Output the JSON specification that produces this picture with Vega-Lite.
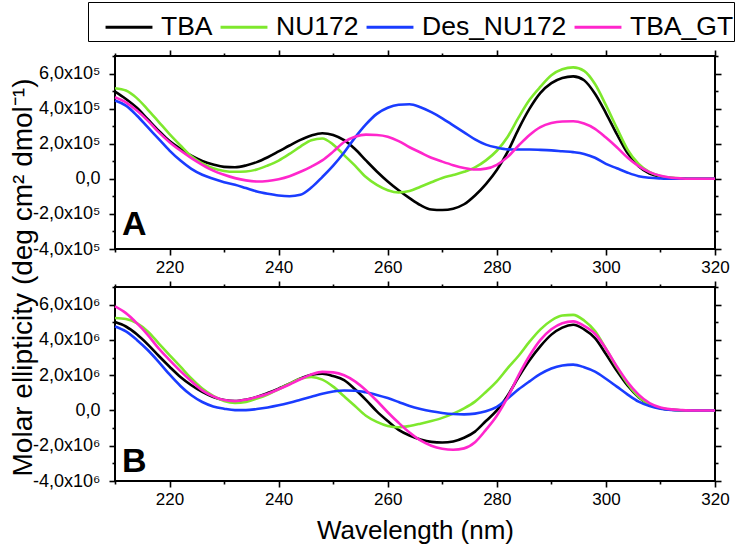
{
  "$schema": "https://vega.github.io/schema/vega-lite/v6.json",
  "autosize": {"type": "pad"},
  "padding": {"left": 7, "top": 1, "right": 0, "bottom": 0},
  "bounds": "flush",
  "spacing": 38,
  "background": "white",
  "config": {
    "font": "Liberation Sans",
    "view": {"stroke": "black", "strokeWidth": 2},
    "axis": {"domain": false, "grid": false, "labelFlush": false, "tickColor": "black", "tickWidth": 1.6, "labelColor": "black", "labelFont": "Liberation Sans", "titleFont": "Liberation Sans", "titleColor": "black", "titleFontWeight": "normal"}
  },
  "data": {"values": [
    {"p":"A","nm":210,"TBA":497000,"NU172":516000,"Des_NU172":446000,"TBA_GT":465000},
    {"p":"A","nm":212,"TBA":455000,"NU172":503000,"Des_NU172":417000,"TBA_GT":436000},
    {"p":"A","nm":214,"TBA":405000,"NU172":460000,"Des_NU172":361000,"TBA_GT":389000},
    {"p":"A","nm":216,"TBA":340000,"NU172":395000,"Des_NU172":294000,"TBA_GT":332000},
    {"p":"A","nm":218,"TBA":275000,"NU172":325000,"Des_NU172":228000,"TBA_GT":266000},
    {"p":"A","nm":220,"TBA":215000,"NU172":255000,"Des_NU172":161000,"TBA_GT":209000},
    {"p":"A","nm":222,"TBA":170000,"NU172":190000,"Des_NU172":104000,"TBA_GT":161000},
    {"p":"A","nm":224,"TBA":132000,"NU172":128000,"Des_NU172":57000,"TBA_GT":118000},
    {"p":"A","nm":226,"TBA":102000,"NU172":88000,"Des_NU172":23000,"TBA_GT":80000},
    {"p":"A","nm":228,"TBA":82000,"NU172":60000,"Des_NU172":0,"TBA_GT":47000},
    {"p":"A","nm":230,"TBA":68000,"NU172":45000,"Des_NU172":-19000,"TBA_GT":23000},
    {"p":"A","nm":232,"TBA":66000,"NU172":40000,"Des_NU172":-34000,"TBA_GT":4000},
    {"p":"A","nm":234,"TBA":76000,"NU172":42000,"Des_NU172":-53000,"TBA_GT":-9000},
    {"p":"A","nm":236,"TBA":95000,"NU172":53000,"Des_NU172":-72000,"TBA_GT":-15000},
    {"p":"A","nm":238,"TBA":123000,"NU172":76000,"Des_NU172":-85000,"TBA_GT":-12000},
    {"p":"A","nm":240,"TBA":156000,"NU172":104000,"Des_NU172":-95000,"TBA_GT":-2000},
    {"p":"A","nm":242,"TBA":190000,"NU172":142000,"Des_NU172":-99000,"TBA_GT":15000},
    {"p":"A","nm":244,"TBA":222000,"NU172":184000,"Des_NU172":-91000,"TBA_GT":40000},
    {"p":"A","nm":246,"TBA":247000,"NU172":220000,"Des_NU172":-50000,"TBA_GT":70000},
    {"p":"A","nm":248,"TBA":260000,"NU172":230000,"Des_NU172":10000,"TBA_GT":105000},
    {"p":"A","nm":250,"TBA":250000,"NU172":195000,"Des_NU172":75000,"TBA_GT":155000},
    {"p":"A","nm":252,"TBA":220000,"NU172":135000,"Des_NU172":150000,"TBA_GT":210000},
    {"p":"A","nm":254,"TBA":170000,"NU172":75000,"Des_NU172":235000,"TBA_GT":240000},
    {"p":"A","nm":256,"TBA":105000,"NU172":10000,"Des_NU172":310000,"TBA_GT":252000},
    {"p":"A","nm":258,"TBA":42000,"NU172":-35000,"Des_NU172":370000,"TBA_GT":250000},
    {"p":"A","nm":260,"TBA":-15000,"NU172":-65000,"Des_NU172":405000,"TBA_GT":240000},
    {"p":"A","nm":262,"TBA":-65000,"NU172":-78000,"Des_NU172":422000,"TBA_GT":215000},
    {"p":"A","nm":264,"TBA":-110000,"NU172":-70000,"Des_NU172":425000,"TBA_GT":180000},
    {"p":"A","nm":266,"TBA":-150000,"NU172":-45000,"Des_NU172":408000,"TBA_GT":150000},
    {"p":"A","nm":268,"TBA":-175000,"NU172":-20000,"Des_NU172":380000,"TBA_GT":120000},
    {"p":"A","nm":270,"TBA":-178000,"NU172":5000,"Des_NU172":345000,"TBA_GT":98000},
    {"p":"A","nm":272,"TBA":-170000,"NU172":22000,"Des_NU172":305000,"TBA_GT":78000},
    {"p":"A","nm":274,"TBA":-145000,"NU172":40000,"Des_NU172":265000,"TBA_GT":62000},
    {"p":"A","nm":276,"TBA":-95000,"NU172":65000,"Des_NU172":225000,"TBA_GT":53000},
    {"p":"A","nm":278,"TBA":-30000,"NU172":105000,"Des_NU172":195000,"TBA_GT":58000},
    {"p":"A","nm":280,"TBA":50000,"NU172":160000,"Des_NU172":178000,"TBA_GT":80000},
    {"p":"A","nm":282,"TBA":155000,"NU172":240000,"Des_NU172":168000,"TBA_GT":125000},
    {"p":"A","nm":284,"TBA":285000,"NU172":350000,"Des_NU172":167000,"TBA_GT":190000},
    {"p":"A","nm":286,"TBA":400000,"NU172":450000,"Des_NU172":167000,"TBA_GT":250000},
    {"p":"A","nm":288,"TBA":490000,"NU172":525000,"Des_NU172":165000,"TBA_GT":295000},
    {"p":"A","nm":290,"TBA":545000,"NU172":590000,"Des_NU172":162000,"TBA_GT":318000},
    {"p":"A","nm":292,"TBA":575000,"NU172":625000,"Des_NU172":157000,"TBA_GT":327000},
    {"p":"A","nm":294,"TBA":584000,"NU172":635000,"Des_NU172":152000,"TBA_GT":328000},
    {"p":"A","nm":296,"TBA":562000,"NU172":615000,"Des_NU172":142000,"TBA_GT":315000},
    {"p":"A","nm":298,"TBA":485000,"NU172":540000,"Des_NU172":120000,"TBA_GT":285000},
    {"p":"A","nm":300,"TBA":375000,"NU172":420000,"Des_NU172":85000,"TBA_GT":235000},
    {"p":"A","nm":302,"TBA":255000,"NU172":290000,"Des_NU172":60000,"TBA_GT":180000},
    {"p":"A","nm":304,"TBA":145000,"NU172":165000,"Des_NU172":35000,"TBA_GT":120000},
    {"p":"A","nm":306,"TBA":72000,"NU172":85000,"Des_NU172":15000,"TBA_GT":72000},
    {"p":"A","nm":308,"TBA":30000,"NU172":38000,"Des_NU172":6000,"TBA_GT":38000},
    {"p":"A","nm":310,"TBA":12000,"NU172":16000,"Des_NU172":2000,"TBA_GT":17000},
    {"p":"A","nm":312,"TBA":4000,"NU172":6000,"Des_NU172":0,"TBA_GT":6000},
    {"p":"A","nm":314,"TBA":1000,"NU172":2000,"Des_NU172":0,"TBA_GT":2000},
    {"p":"A","nm":316,"TBA":0,"NU172":0,"Des_NU172":0,"TBA_GT":0},
    {"p":"A","nm":318,"TBA":0,"NU172":0,"Des_NU172":0,"TBA_GT":0},
    {"p":"A","nm":320,"TBA":0,"NU172":0,"Des_NU172":0,"TBA_GT":0},
    {"p":"B","nm":210,"TBA":5010000,"NU172":5240000,"Des_NU172":4760000,"TBA_GT":5900000},
    {"p":"B","nm":212,"TBA":4760000,"NU172":5180000,"Des_NU172":4480000,"TBA_GT":5520000},
    {"p":"B","nm":214,"TBA":4320000,"NU172":4950000,"Des_NU172":4000000,"TBA_GT":4950000},
    {"p":"B","nm":216,"TBA":3750000,"NU172":4480000,"Des_NU172":3430000,"TBA_GT":4290000},
    {"p":"B","nm":218,"TBA":3100000,"NU172":3810000,"Des_NU172":2760000,"TBA_GT":3520000},
    {"p":"B","nm":220,"TBA":2480000,"NU172":3140000,"Des_NU172":2040000,"TBA_GT":2860000},
    {"p":"B","nm":222,"TBA":1900000,"NU172":2480000,"Des_NU172":1390000,"TBA_GT":2230000},
    {"p":"B","nm":224,"TBA":1430000,"NU172":1810000,"Des_NU172":860000,"TBA_GT":1660000},
    {"p":"B","nm":226,"TBA":1050000,"NU172":1240000,"Des_NU172":480000,"TBA_GT":1140000},
    {"p":"B","nm":228,"TBA":760000,"NU172":820000,"Des_NU172":230000,"TBA_GT":800000},
    {"p":"B","nm":230,"TBA":590000,"NU172":530000,"Des_NU172":100000,"TBA_GT":590000},
    {"p":"B","nm":232,"TBA":530000,"NU172":420000,"Des_NU172":20000,"TBA_GT":530000},
    {"p":"B","nm":234,"TBA":610000,"NU172":480000,"Des_NU172":20000,"TBA_GT":610000},
    {"p":"B","nm":236,"TBA":760000,"NU172":670000,"Des_NU172":80000,"TBA_GT":760000},
    {"p":"B","nm":238,"TBA":990000,"NU172":900000,"Des_NU172":170000,"TBA_GT":950000},
    {"p":"B","nm":240,"TBA":1240000,"NU172":1200000,"Des_NU172":290000,"TBA_GT":1200000},
    {"p":"B","nm":242,"TBA":1520000,"NU172":1520000,"Des_NU172":440000,"TBA_GT":1470000},
    {"p":"B","nm":244,"TBA":1810000,"NU172":1800000,"Des_NU172":610000,"TBA_GT":1770000},
    {"p":"B","nm":246,"TBA":2020000,"NU172":1900000,"Des_NU172":780000,"TBA_GT":2040000},
    {"p":"B","nm":248,"TBA":2080000,"NU172":1750000,"Des_NU172":950000,"TBA_GT":2190000},
    {"p":"B","nm":250,"TBA":1950000,"NU172":1350000,"Des_NU172":1070000,"TBA_GT":2160000},
    {"p":"B","nm":252,"TBA":1720000,"NU172":800000,"Des_NU172":1130000,"TBA_GT":2000000},
    {"p":"B","nm":254,"TBA":1200000,"NU172":250000,"Des_NU172":1120000,"TBA_GT":1650000},
    {"p":"B","nm":256,"TBA":600000,"NU172":-300000,"Des_NU172":1030000,"TBA_GT":1150000},
    {"p":"B","nm":258,"TBA":-50000,"NU172":-650000,"Des_NU172":880000,"TBA_GT":550000},
    {"p":"B","nm":260,"TBA":-600000,"NU172":-880000,"Des_NU172":700000,"TBA_GT":-100000},
    {"p":"B","nm":262,"TBA":-1100000,"NU172":-950000,"Des_NU172":480000,"TBA_GT":-700000},
    {"p":"B","nm":264,"TBA":-1420000,"NU172":-880000,"Des_NU172":250000,"TBA_GT":-1250000},
    {"p":"B","nm":266,"TBA":-1640000,"NU172":-750000,"Des_NU172":80000,"TBA_GT":-1700000},
    {"p":"B","nm":268,"TBA":-1780000,"NU172":-600000,"Des_NU172":-50000,"TBA_GT":-2000000},
    {"p":"B","nm":270,"TBA":-1820000,"NU172":-420000,"Des_NU172":-140000,"TBA_GT":-2170000},
    {"p":"B","nm":272,"TBA":-1760000,"NU172":-180000,"Des_NU172":-200000,"TBA_GT":-2230000},
    {"p":"B","nm":274,"TBA":-1550000,"NU172":120000,"Des_NU172":-220000,"TBA_GT":-2150000},
    {"p":"B","nm":276,"TBA":-1200000,"NU172":500000,"Des_NU172":-180000,"TBA_GT":-1800000},
    {"p":"B","nm":278,"TBA":-600000,"NU172":1050000,"Des_NU172":-50000,"TBA_GT":-1100000},
    {"p":"B","nm":280,"TBA":0,"NU172":1650000,"Des_NU172":200000,"TBA_GT":-300000},
    {"p":"B","nm":282,"TBA":850000,"NU172":2400000,"Des_NU172":680000,"TBA_GT":750000},
    {"p":"B","nm":284,"TBA":1900000,"NU172":3100000,"Des_NU172":1200000,"TBA_GT":2000000},
    {"p":"B","nm":286,"TBA":2850000,"NU172":3900000,"Des_NU172":1650000,"TBA_GT":3100000},
    {"p":"B","nm":288,"TBA":3650000,"NU172":4600000,"Des_NU172":2070000,"TBA_GT":4000000},
    {"p":"B","nm":290,"TBA":4300000,"NU172":5100000,"Des_NU172":2380000,"TBA_GT":4600000},
    {"p":"B","nm":292,"TBA":4700000,"NU172":5380000,"Des_NU172":2550000,"TBA_GT":4950000},
    {"p":"B","nm":294,"TBA":4860000,"NU172":5420000,"Des_NU172":2600000,"TBA_GT":5050000},
    {"p":"B","nm":296,"TBA":4600000,"NU172":5100000,"Des_NU172":2450000,"TBA_GT":4800000},
    {"p":"B","nm":298,"TBA":4100000,"NU172":4500000,"Des_NU172":2200000,"TBA_GT":4350000},
    {"p":"B","nm":300,"TBA":3200000,"NU172":3500000,"Des_NU172":1800000,"TBA_GT":3500000},
    {"p":"B","nm":302,"TBA":2250000,"NU172":2450000,"Des_NU172":1350000,"TBA_GT":2500000},
    {"p":"B","nm":304,"TBA":1400000,"NU172":1500000,"Des_NU172":900000,"TBA_GT":1600000},
    {"p":"B","nm":306,"TBA":750000,"NU172":780000,"Des_NU172":500000,"TBA_GT":900000},
    {"p":"B","nm":308,"TBA":330000,"NU172":350000,"Des_NU172":250000,"TBA_GT":420000},
    {"p":"B","nm":310,"TBA":120000,"NU172":130000,"Des_NU172":100000,"TBA_GT":170000},
    {"p":"B","nm":312,"TBA":40000,"NU172":40000,"Des_NU172":30000,"TBA_GT":60000},
    {"p":"B","nm":314,"TBA":10000,"NU172":10000,"Des_NU172":10000,"TBA_GT":20000},
    {"p":"B","nm":316,"TBA":0,"NU172":0,"Des_NU172":0,"TBA_GT":0},
    {"p":"B","nm":318,"TBA":0,"NU172":0,"Des_NU172":0,"TBA_GT":0},
    {"p":"B","nm":320,"TBA":0,"NU172":0,"Des_NU172":0,"TBA_GT":0}
  ]},
  "resolve": {"scale": {"y": "independent", "color": "shared"}},
  "vconcat": [
    {
      "width": 600, "height": 193,
      "layer": [
        {
          "transform": [{"filter": "datum.p === 'A'"}, {"fold": ["TBA", "NU172", "Des_NU172", "TBA_GT"], "as": ["series", "v"]}],
          "mark": {"type": "line", "strokeWidth": 2.6, "interpolate": "monotone"},
          "encoding": {
            "x": {"field": "nm", "type": "quantitative", "scale": {"domain": [210, 320], "nice": false, "zero": false},
              "axis": {"orient": "bottom", "values": [210,220,230,240,250,260,270,280,290,300,310,320], "labelExpr": "datum.value % 20 === 0 ? datum.label : ''", "tickSize": {"condition": {"test": "datum.value % 20 === 0", "value": 6}, "value": 3}, "labelFontSize": 17, "labelPadding": 4, "labelFlush": false, "title": null}},
            "y": {"field": "v", "type": "quantitative", "scale": {"domain": [-400000, 700000], "nice": false, "zero": false},
              "axis": {"orient": "left", "values": [-400000,-300000,-200000,-100000,0,100000,200000,300000,400000,500000,600000,700000], "labelExpr": "datum.value === 0 ? '0,0' : (datum.value % 200000 === 0 ? (datum.value < 0 ? '-' : '') + (abs(datum.value) / 100000) + ',0x10⁵' : '')", "tickSize": {"condition": {"test": "datum.value % 200000 === 0", "value": 6}, "value": 3}, "labelFontSize": 18, "labelPadding": 9, "labelFlush": false,
                "title": "Molar ellipticity (deg cm² dmol⁻¹)", "titleFontSize": 28, "titleX": -84, "titleY": 221, "titleAngle": 270, "titleAlign": "center", "titleBaseline": "alphabetic"}},
            "color": {"field": "series", "type": "nominal",
              "scale": {"domain": ["TBA", "NU172", "Des_NU172", "TBA_GT"], "range": ["#000000", "#7ee82d", "#1a3cff", "#ff26cc"]},
              "legend": {"title": " ", "titleOrient": "left", "titleFontSize": 1, "titlePadding": 16, "orient": "none", "legendX": -27, "legendY": -54, "direction": "horizontal", "symbolType": "stroke", "symbolSize": 2200, "symbolStrokeWidth": 3, "labelFontSize": 26.5, "labelFont": "Liberation Sans", "labelColor": "black", "labelOffset": 7, "columnPadding": 1, "padding": 0, "strokeColor": "black", "fillColor": "white", "labelLimit": 0}}
          }
        },
        {
          "data": {"values": [{"panel": "A"}]},
          "mark": {"type": "text", "fontSize": 34, "fontWeight": "bold", "align": "left", "baseline": "alphabetic", "color": "black"},
          "encoding": {
            "text": {"field": "panel"},
            "x": {"datum": 211.3, "type": "quantitative", "axis": {"orient": "top", "values": [210,220,230,240,250,260,270,280,290,300,310,320], "labels": false, "tickSize": {"condition": {"test": "datum.value % 20 === 0", "value": 6}, "value": 3}, "title": null}},
            "y": {"datum": -320000, "type": "quantitative", "axis": {"orient": "right", "values": [-400000,-300000,-200000,-100000,0,100000,200000,300000,400000,500000,600000,700000], "labels": false, "tickSize": {"condition": {"test": "datum.value % 200000 === 0", "value": 6}, "value": 3}, "title": null}}
          }
        }
      ],
      "resolve": {"axis": {"x": "independent", "y": "independent"}}
    },
    {
      "width": 600, "height": 194,
      "layer": [
        {
          "transform": [{"filter": "datum.p === 'B'"}, {"fold": ["TBA", "NU172", "Des_NU172", "TBA_GT"], "as": ["series", "v"]}],
          "mark": {"type": "line", "strokeWidth": 2.6, "interpolate": "monotone"},
          "encoding": {
            "x": {"field": "nm", "type": "quantitative", "scale": {"domain": [210, 320], "nice": false, "zero": false},
              "axis": {"orient": "bottom", "values": [210,220,230,240,250,260,270,280,290,300,310,320], "labelExpr": "datum.value % 20 === 0 ? datum.label : ''", "tickSize": {"condition": {"test": "datum.value % 20 === 0", "value": 6}, "value": 3}, "labelFontSize": 17, "labelPadding": 4, "labelFlush": false, "title": "Wavelength (nm)", "titleFontSize": 26, "titlePadding": 10}},
            "y": {"field": "v", "type": "quantitative", "scale": {"domain": [-4000000, 7000000], "nice": false, "zero": false},
              "axis": {"orient": "left", "values": [-4000000,-3000000,-2000000,-1000000,0,1000000,2000000,3000000,4000000,5000000,6000000,7000000], "labelExpr": "datum.value === 0 ? '0,0' : (datum.value % 2000000 === 0 ? (datum.value < 0 ? '-' : '') + (abs(datum.value) / 1000000) + ',0x10⁶' : '')", "tickSize": {"condition": {"test": "datum.value % 2000000 === 0", "value": 6}, "value": 3}, "labelFontSize": 18, "labelPadding": 9, "labelFlush": false, "title": null}},
            "color": {"field": "series", "type": "nominal",
              "scale": {"domain": ["TBA", "NU172", "Des_NU172", "TBA_GT"], "range": ["#000000", "#7ee82d", "#1a3cff", "#ff26cc"]}}
          }
        },
        {
          "data": {"values": [{"panel": "B"}]},
          "mark": {"type": "text", "fontSize": 34, "fontWeight": "bold", "align": "left", "baseline": "alphabetic", "color": "black"},
          "encoding": {
            "text": {"field": "panel"},
            "x": {"datum": 211.3, "type": "quantitative", "axis": {"orient": "top", "values": [210,220,230,240,250,260,270,280,290,300,310,320], "labels": false, "tickSize": {"condition": {"test": "datum.value % 20 === 0", "value": 6}, "value": 3}, "title": null}},
            "y": {"datum": -3500000, "type": "quantitative", "axis": {"orient": "right", "values": [-4000000,-3000000,-2000000,-1000000,0,1000000,2000000,3000000,4000000,5000000,6000000,7000000], "labels": false, "tickSize": {"condition": {"test": "datum.value % 2000000 === 0", "value": 6}, "value": 3}, "title": null}}
          }
        }
      ],
      "resolve": {"axis": {"x": "independent", "y": "independent"}}
    }
  ]
}
